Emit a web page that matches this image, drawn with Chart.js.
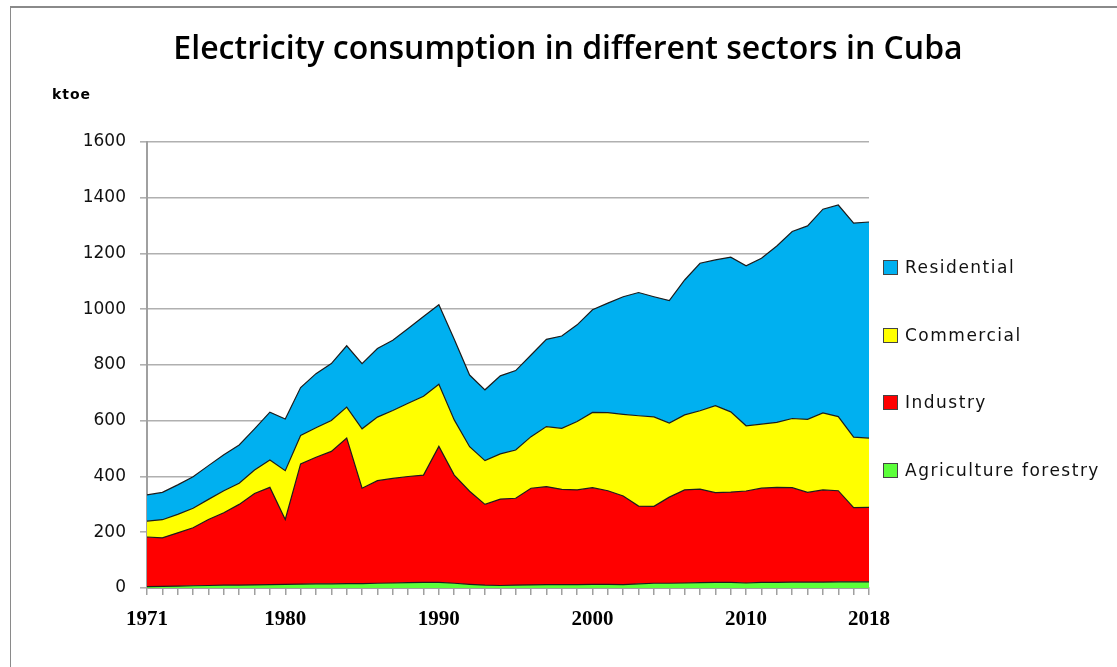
<!DOCTYPE html>
<html><head><meta charset="utf-8">
<script src="https://cdn.jsdelivr.net/npm/chart.js@4/dist/chart.umd.min.js"></script>
<style>
html,body{margin:0;padding:0;background:#fff;}
#wrap{position:relative;width:1117px;height:667px;overflow:hidden;background:#fff;}
#frame{position:absolute;left:10px;top:6px;width:1200px;height:800px;border-left:1px solid #8a8a8a;border-top:2px solid #8a8a8a;}
#c{position:absolute;left:0;top:0;}
#title{position:absolute;left:0;width:1136px;top:26px;line-height:42px;text-align:center;font-family:'Open Sans',sans-serif;font-size:32px;font-weight:600;color:#000;}
#unit{position:absolute;left:52px;top:86px;font-family:'DejaVu Sans',sans-serif;font-weight:bold;font-size:14px;letter-spacing:1px;color:#000;}
.item{position:absolute;left:883px;height:20px;display:flex;align-items:center;white-space:nowrap;font-family:'DejaVu Sans',sans-serif;font-size:17px;letter-spacing:1.5px;color:#111;}
.sw{width:13px;height:13px;border:1px solid #444;margin-right:7px;box-sizing:content-box;}
</style></head>
<body>
<div id="wrap">
<div id="frame"></div>
<canvas id="c" width="1117" height="667"></canvas>
<div id="title">Electricity consumption in different sectors in Cuba</div>
<div id="unit">ktoe</div>
<div id="legend"></div>
</div>
<script>
const years = ['1971','1972','1973','1974','1975','1976','1977','1978','1979','1980',
  '1981','1982','1983','1984','1985','1986','1987','1988','1989','1990',
  '1991','1992','1993','1994','1995','1996','1997','1998','1999','2000',
  '2001','2002','2003','2004','2005','2006','2007','2008','2009','2010',
  '2011','2012','2013','2014','2015','2016','2017','2018'];
const labeledYears = ['1971','1980','1990','2000','2010','2018'];
const agriculture = [5,6,7,8,9,10,10,11,12,13, 14,15,15,16,16,17,18,19,20,20, 17,13,10,9,10,11,12,12,12,13, 13,12,15,17,17,18,19,20,20,18, 20,20,21,21,21,22,22,22];
const industry = [178,174,191,208,237,260,290,328,349,233, 431,454,475,522,342,368,375,381,385,488, 388,334,290,310,312,347,352,342,340,347, 336,318,279,276,309,334,336,322,324,330, 338,341,339,322,331,327,266,267];
const commercial = [57,65,66,70,72,79,76,84,98,175, 102,106,111,111,213,228,244,263,283,223, 198,160,157,162,173,185,215,219,245,270, 280,293,324,321,266,269,281,312,288,234, 230,233,248,262,276,266,253,249];
const residential = [94,98,106,113,121,129,137,148,172,185, 172,194,204,220,234,246,252,268,286,285, 289,257,254,280,285,293,313,331,347,368, 393,422,442,431,439,484,529,523,555,574, 595,633,671,694,731,759,768,775];
const yTicks = [0,200,400,600,800,1000,1200,1400,1600];

const seriesNames = ['Agriculture forestry','Industry','Commercial','Residential'];
const seriesColors = ['#5CFF3A','#FF0000','#FFFF00','#00B0F0'];
const seriesData = [agriculture, industry, commercial, residential];

const datasets = seriesData.map((d, i) => ({
  label: seriesNames[i],
  data: d,
  backgroundColor: seriesColors[i],
  borderColor: '#1c1c1c',
  borderWidth: 1.2,
  pointRadius: 0,
  tension: 0,
  fill: i === 0 ? 'origin' : '-1'
}));

new Chart(document.getElementById('c'), {
  type: 'line',
  data: { labels: years, datasets: datasets },
  options: {
    responsive: false,
    animation: false,
    layout: { padding: { left: 19, right: 248, top: 142, bottom: 0 } },
    plugins: { legend: { display: false }, title: { display: false }, tooltip: { enabled: false } },
    scales: {
      x: {
        offset: false,
        grid: { display: true, drawOnChartArea: false, drawTicks: true, tickLength: 7, color: '#a0a0a0', lineWidth: 1.5 },
        border: { color: '#a0a0a0', width: 2 },
        ticks: {
          autoSkip: false, maxRotation: 0, minRotation: 0, padding: 12,
          font: { family: 'Liberation Serif', weight: 'bold', size: 21 }, color: '#000',
          callback: function(v, i) { const y = years[i]; return labeledYears.includes(y) ? y : ''; }
        },
        afterFit: function(s) { s.height = 79; }
      },
      y: {
        stacked: true,
        min: 0, max: 1600,
        afterBuildTicks: function(s) { s.ticks = yTicks.map(v => ({ value: v })); },
        grid: { color: '#b0b0b0', lineWidth: 1.6, tickLength: 7, drawTicks: true },
        border: { color: '#a0a0a0', width: 2 },
        ticks: { padding: 14, font: { family: 'DejaVu Sans', size: 17 }, color: '#111',
          callback: function(v) { return String(v); } },
        afterFit: function(s) { s.width = 128; }
      }
    }
  }
});

const legendCenters = [267, 335, 402, 470];
const legendOrder = [3, 2, 1, 0];
const lg = document.getElementById('legend');
legendOrder.forEach((si, k) => {
  const it = document.createElement('div');
  it.className = 'item';
  it.style.top = (legendCenters[k] - 10) + 'px';
  const sw = document.createElement('div');
  sw.className = 'sw';
  sw.style.background = seriesColors[si];
  const tx = document.createElement('span');
  tx.textContent = seriesNames[si];
  it.appendChild(sw); it.appendChild(tx);
  lg.appendChild(it);
});
</script>
</body></html>
